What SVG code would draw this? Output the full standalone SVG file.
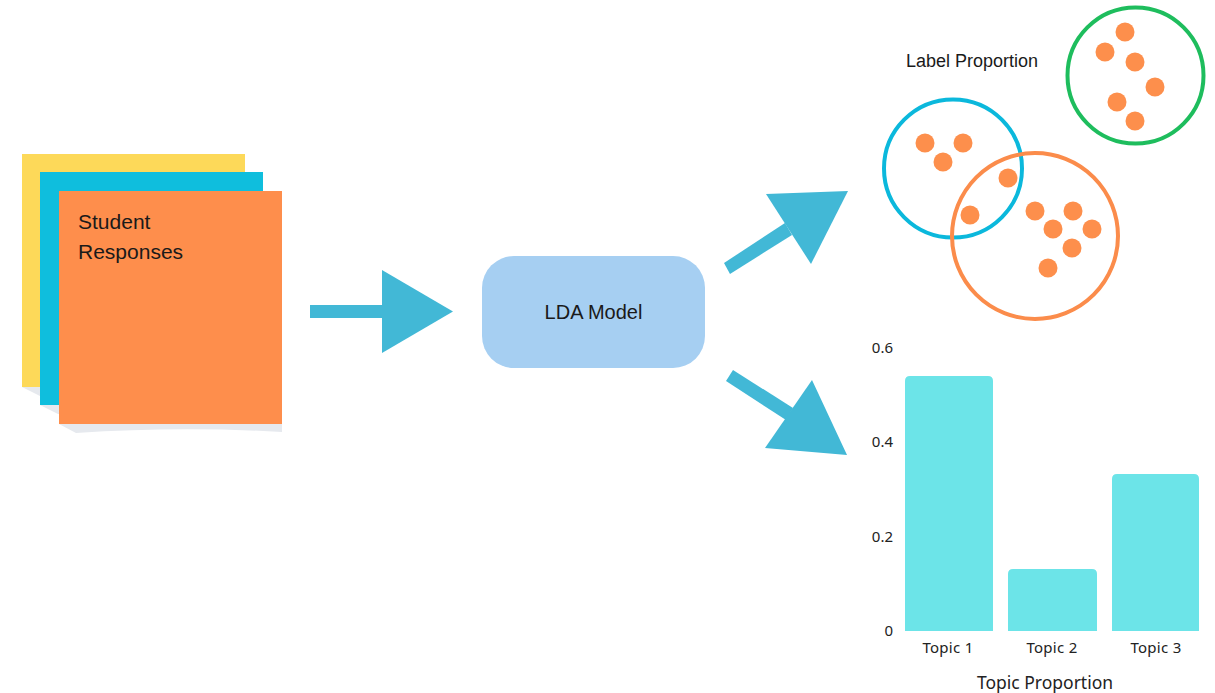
<svg xmlns="http://www.w3.org/2000/svg" width="1215" height="693" viewBox="0 0 1215 693">
<style>
.t{font-family:"Liberation Sans",Arial,sans-serif;fill:#1a1a1a}
.c{font-family:"Noto Sans","Liberation Sans",sans-serif;fill:#222}
.arrow{fill:#42b8d6}
.dot{fill:#fd8f4c}
.ring{fill:none;stroke-width:4}
.bar{fill:#6ce4e8}
.shadow{fill:#e6e9ee}
</style>
<rect width="1215" height="693" fill="#ffffff"/>
<g id="student-responses">
  <path class="shadow" d="M22 387 L245 387 L245 392 Q140 388 40 396 Z"/>
  <rect x="22" y="154" width="223" height="233" fill="#fdd959"/>
  <path class="shadow" d="M40 405 L263 405 L263 410 Q160 406 58 414 Z"/>
  <rect x="40" y="172" width="223" height="233" fill="#0fbedd"/>
  <path class="shadow" d="M59 424 L282 424 L282 432 Q180 426 76 433 Z"/>
  <rect x="59" y="191" width="223" height="233" fill="#fe8e4c"/>
  <text class="t" x="78" y="229" font-size="21">Student</text>
  <text class="t" x="78" y="259" font-size="21">Responses</text>
</g>
<g id="lda-model">
  <rect x="482" y="256" width="223" height="112" rx="32" fill="#a6cff2"/>
  <text class="t" x="593.5" y="319" font-size="20" text-anchor="middle">LDA Model</text>
</g>
<g id="label-proportion">
  <text class="t" x="906" y="67" font-size="18">Label Proportion</text>
  <circle class="ring" cx="1135.5" cy="75.5" r="68" stroke="#1ebd5d"/>
  <circle class="ring" cx="953" cy="168.5" r="69" stroke="#0bb8dc"/>
  <circle class="ring" cx="1035" cy="236" r="83" stroke="#fb8c4b"/>
  <circle class="dot" cx="1125" cy="32" r="9.5"/>
  <circle class="dot" cx="1105" cy="52" r="9.5"/>
  <circle class="dot" cx="1135" cy="62" r="9.5"/>
  <circle class="dot" cx="1155" cy="87" r="9.5"/>
  <circle class="dot" cx="1117" cy="102" r="9.5"/>
  <circle class="dot" cx="1135" cy="121" r="9.5"/>
  <circle class="dot" cx="925" cy="143" r="9.5"/>
  <circle class="dot" cx="963" cy="143" r="9.5"/>
  <circle class="dot" cx="943" cy="162" r="9.5"/>
  <circle class="dot" cx="1008" cy="178" r="9.5"/>
  <circle class="dot" cx="970" cy="215" r="9.5"/>
  <circle class="dot" cx="1035" cy="211" r="9.5"/>
  <circle class="dot" cx="1073" cy="211" r="9.5"/>
  <circle class="dot" cx="1053" cy="229" r="9.5"/>
  <circle class="dot" cx="1092" cy="229" r="9.5"/>
  <circle class="dot" cx="1072" cy="248" r="9.5"/>
  <circle class="dot" cx="1048" cy="268" r="9.5"/>
</g>
<g id="topic-proportion">
  <text class="c" x="893" y="353" font-size="15" text-anchor="end">0.6</text>
  <text class="c" x="893" y="447" font-size="15" text-anchor="end">0.4</text>
  <text class="c" x="893" y="542" font-size="15" text-anchor="end">0.2</text>
  <text class="c" x="893" y="636" font-size="15" text-anchor="end">0</text>
  <path class="bar" d="M905 631 L905 381 Q905 376 910 376 L988 376 Q993 376 993 381 L993 631 Z"/>
  <path class="bar" d="M1008 631 L1008 574 Q1008 569 1013 569 L1092 569 Q1097 569 1097 574 L1097 631 Z"/>
  <path class="bar" d="M1112 631 L1112 479 Q1112 474 1117 474 L1194 474 Q1199 474 1199 479 L1199 631 Z"/>
  <text class="c" x="948" y="653" font-size="15" letter-spacing="0.3" text-anchor="middle">Topic 1</text>
  <text class="c" x="1052" y="653" font-size="15" letter-spacing="0.3" text-anchor="middle">Topic 2</text>
  <text class="c" x="1156" y="653" font-size="15" letter-spacing="0.3" text-anchor="middle">Topic 3</text>
  <text class="c" x="1045" y="689" font-size="17.5" text-anchor="middle">Topic Proportion</text>
</g>
<g id="connectors">
  <rect class="arrow" x="310" y="305" width="74" height="13"/>
  <polygon class="arrow" points="382,270 453,311.5 382,353"/>
  <polygon class="arrow" points="724,263 730,274 792,235 785,223"/>
  <polygon class="arrow" points="766,194 848,191 811,264"/>
  <polygon class="arrow" points="726,381 733,370 793,408 786,420"/>
  <polygon class="arrow" points="812,380 847,455 765,448"/>
</g>
</svg>
